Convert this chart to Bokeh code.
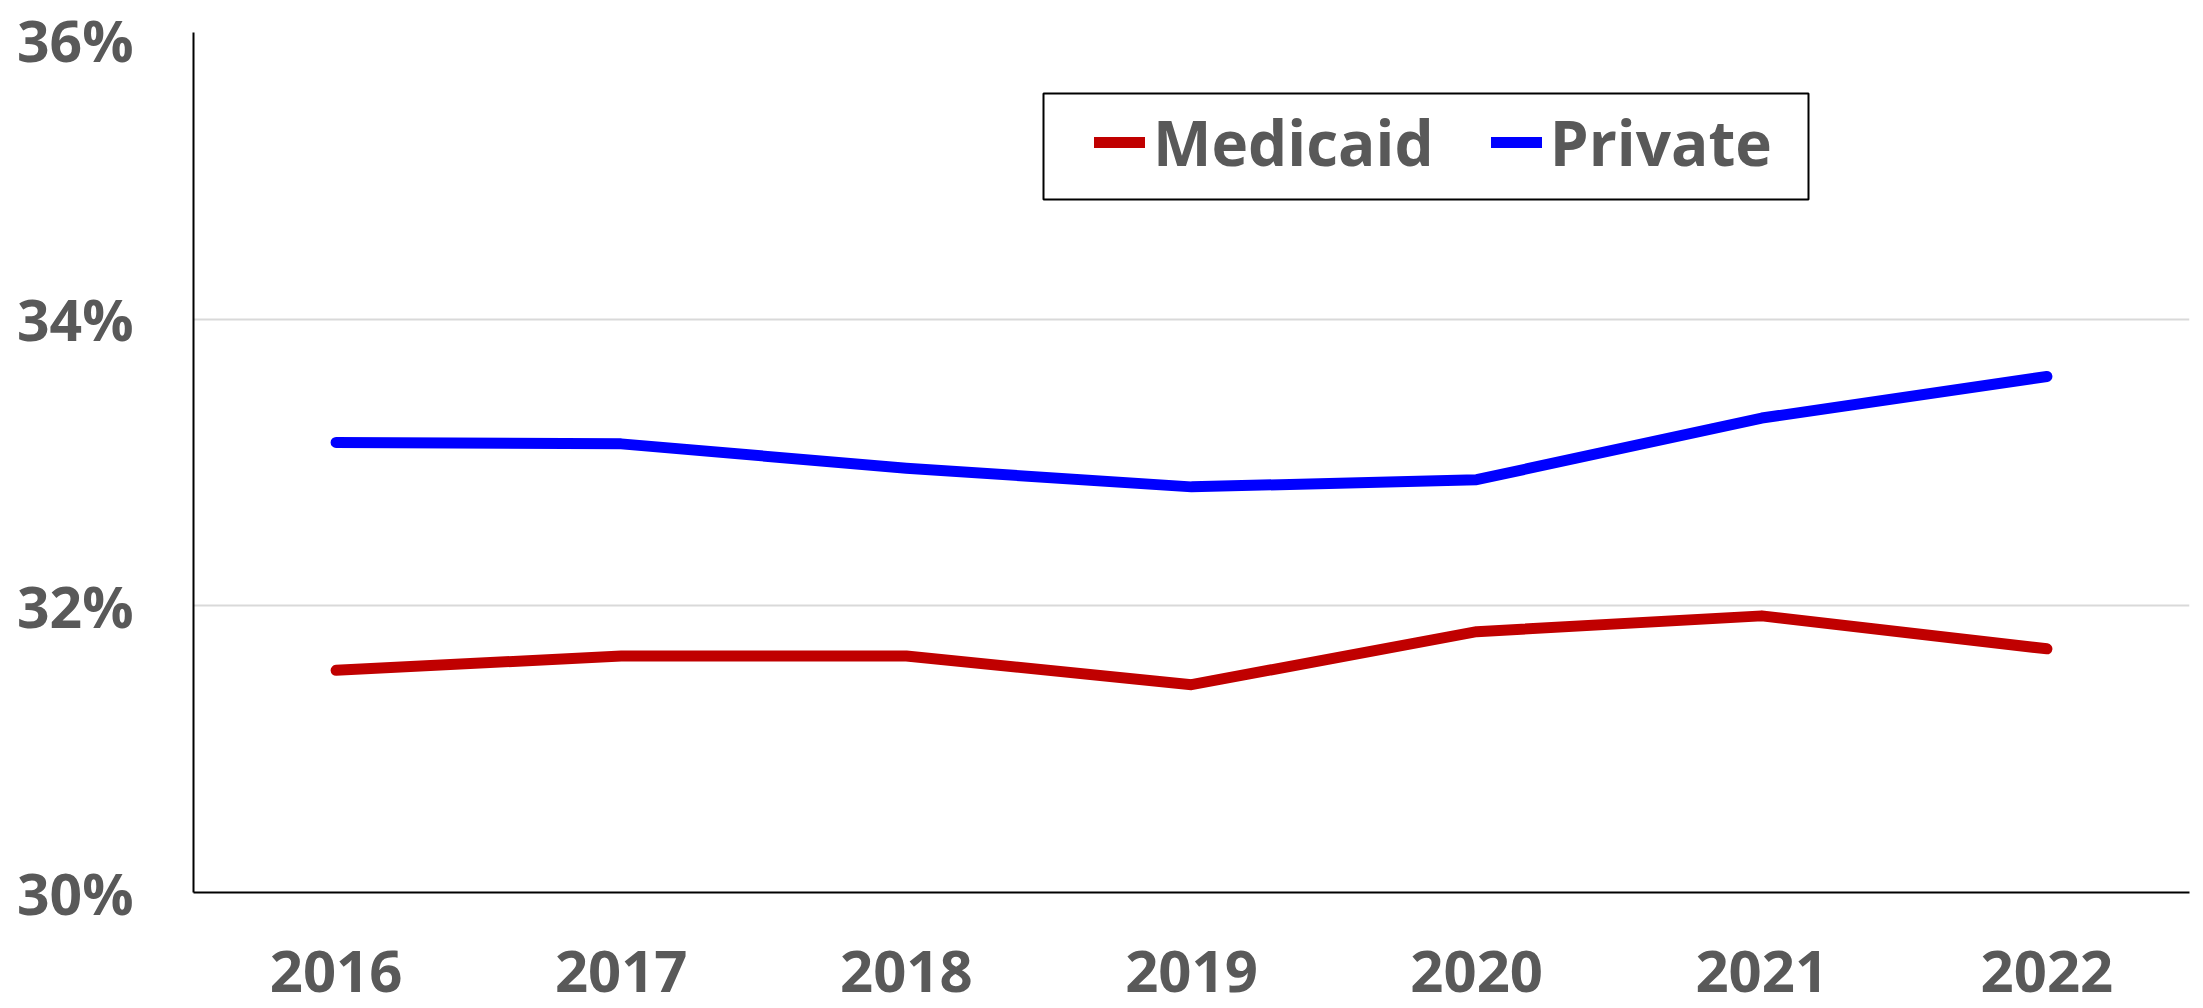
from bokeh.plotting import figure
from bokeh.models import Range1d, FixedTicker, Legend, LegendItem, BoxAnnotation
from bokeh.embed import file_html
from bokeh.resources import INLINE

years = [2016, 2017, 2018, 2019, 2020, 2021, 2022]
medicaid = [31.55, 31.65, 31.65, 31.45, 31.82, 31.93, 31.70]
private = [33.14, 33.13, 32.96, 32.83, 32.88, 33.31, 33.60]
y_ticks = [30, 32, 34, 36]
y_tick_labels = ["30%", "32%", "34%", "36%"]
series_names = ["Medicaid", "Private"]

FONT = "Open Sans"
TXT = "#595959"

p = figure(width=2203, height=1008, output_backend="svg", toolbar_location=None,
           x_range=Range1d(2015.5, 2022.5), y_range=Range1d(30, 36),
           min_border_left=193, min_border_right=14, min_border_top=32, min_border_bottom=116)
p.outline_line_color = None
p.background_fill_color = "white"

r1 = p.line(years, medicaid, line_color="#C00000", line_width=11, line_cap="round", line_join="round")
r2 = p.line(years, private, line_color="#0000FF", line_width=11, line_cap="round", line_join="round")

p.xaxis.ticker = FixedTicker(ticks=years)
p.yaxis.ticker = FixedTicker(ticks=y_ticks)
p.yaxis.major_label_overrides = {t: l for t, l in zip(y_ticks, y_tick_labels)}
for ax in (p.xaxis[0], p.yaxis[0]):
    ax.axis_line_color = "black"
    ax.axis_line_width = 2
    ax.major_tick_line_color = None
    ax.minor_tick_line_color = None
    ax.major_label_text_font = FONT
    ax.major_label_text_font_style = "bold"
    ax.major_label_text_color = TXT
p.yaxis.major_label_text_font_size = "57px"
p.xaxis.major_label_text_font_size = "58px"
p.yaxis.major_label_standoff = 54
p.xaxis.major_label_standoff = 52

p.xgrid.grid_line_color = None
p.ygrid.grid_line_color = "#D9D9D9"
p.ygrid.grid_line_width = 2

legend = Legend(items=[LegendItem(label=series_names[0], renderers=[r1]),
                       LegendItem(label=series_names[1], renderers=[r2])],
                orientation="horizontal", location=(901, 705),
                padding=0, margin=0, spacing=57, label_standoff=8,
                glyph_width=51, glyph_height=90, label_height=90,
                label_text_font=FONT, label_text_font_style="bold",
                label_text_font_size="62px", label_text_color=TXT,
                border_line_color=None, background_fill_alpha=0)
p.add_layout(legend, "center")

box = BoxAnnotation(left=850, right=1615, top=799, bottom=693,
                    left_units="screen", right_units="screen",
                    top_units="screen", bottom_units="screen",
                    fill_alpha=0, line_color="black", line_alpha=1, line_width=2)
p.add_layout(box)

open("out.html", "w").write(file_html(p, INLINE))
